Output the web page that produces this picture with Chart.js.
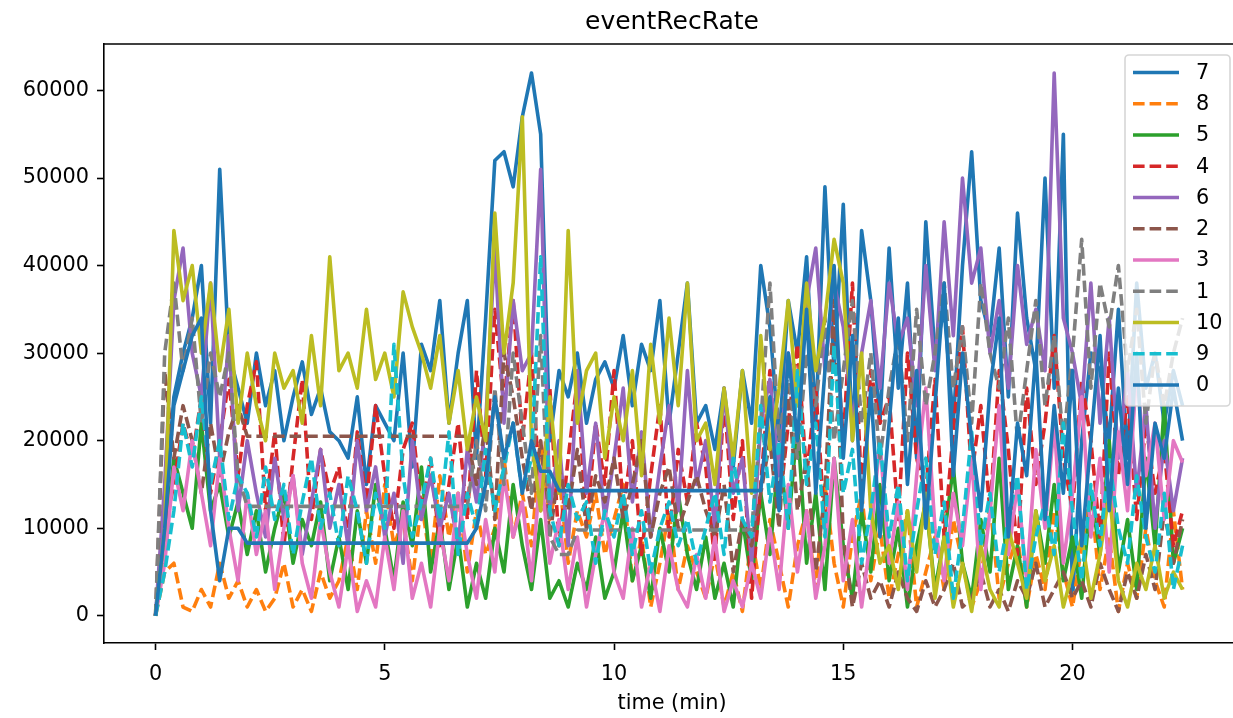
<!DOCTYPE html>
<html>
<head>
<meta charset="utf-8">
<title>eventRecRate</title>
<script src="https://cdn.jsdelivr.net/npm/chart.js@4.4.0/dist/chart.umd.min.js"></script>
<style>
  body { margin: 0; background: #fff; }
  canvas { display: block; }
</style>
</head>
<body>
<canvas id="js--chart" width="1233" height="718"></canvas>
<script>
// time in minutes, rates in thousands of events
const time = [
  0, 0.2, 0.4, 0.6, 0.8, 1, 1.2, 1.4, 1.6, 1.8,
  2, 2.2, 2.4, 2.6, 2.8, 3, 3.2, 3.4, 3.6, 3.8,
  4, 4.2, 4.4, 4.6, 4.8, 5, 5.2, 5.4, 5.6, 5.8,
  6, 6.2, 6.4, 6.6, 6.8, 7, 7.2, 7.4, 7.6, 7.8,
  8, 8.2, 8.4, 8.6, 8.8, 9, 9.2, 9.4, 9.6, 9.8,
  10, 10.2, 10.4, 10.6, 10.8, 11, 11.2, 11.4, 11.6, 11.8,
  12, 12.2, 12.4, 12.6, 12.8, 13, 13.2, 13.4, 13.6, 13.8,
  14, 14.2, 14.4, 14.6, 14.8, 15, 15.2, 15.4, 15.6, 15.8,
  16, 16.2, 16.4, 16.6, 16.8, 17, 17.2, 17.4, 17.6, 17.8,
  18, 18.2, 18.4, 18.6, 18.8, 19, 19.2, 19.4, 19.6, 19.8,
  20, 20.2, 20.4, 20.6, 20.8, 21, 21.2, 21.4, 21.6, 21.8,
  22, 22.2, 22.4
];

const s7 = [
  0, 12, 25, 30, 34, 40, 22, 51, 30, 26,
  22, 30, 24, 28, 20, 25, 29, 23, 26, 21,
  20, 18, 25, 15, 24, 22, 20, 30, 17, 31,
  28, 36, 22, 30, 36, 18, 34, 52, 53, 49,
  57, 62, 55, 20, 28, 25, 30, 22, 27, 29,
  26, 32, 24, 31, 28, 36, 22, 30, 38, 22,
  24, 19, 26, 17, 28, 22, 40, 33, 20, 36,
  30, 41, 22, 49, 28, 47, 20, 44, 36, 22,
  42, 26, 38, 18, 45, 30, 35, 22, 40, 53,
  36, 32, 42, 25, 46, 34, 28, 50, 26, 55,
  2, 20, 30, 28, 20, 35, 18, 38, 26, 30,
  22, 28, 24
];
const s8 = [
  0, 5, 6, 1, 0.5, 3, 1, 6, 2, 4,
  1, 3, 0.5, 2, 6, 1, 3, 0.5, 5, 2,
  4, 9, 3, 12, 6, 15, 8, 11, 4, 13,
  6, 16, 9, 14, 5, 12, 7, 10, 18, 9,
  14, 8, 20, 11, 16, 6, 12, 9, 14, 7,
  11, 15, 4, 9, 1, 6, 12, 3, 8, 5,
  2, 7, 1, 5, 0.5, 9, 3, 11, 6, 1,
  8, 12, 3, 15, 6, 1, 9, 14, 4, 10,
  2, 7, 12, 1, 5, 9, 3, 11, 6, 1,
  4, 13, 2, 6, 9, 1, 7, 3, 12, 5,
  1, 8, 14, 3, 9, 0.5, 6, 2, 10, 4,
  1, 12, 3
];
const s5 = [
  0, 8, 18, 14, 10, 22, 12, 15, 9, 13,
  7, 12, 5, 10, 14, 6, 11, 8, 13, 4,
  9, 3, 12, 6, 15, 10, 4, 13, 8, 17,
  5, 11, 3, 9, 1, 6, 2, 10, 5, 15,
  8, 3, 11, 2, 4, 1, 6, 3, 9, 2,
  5, 12, 4, 8, 2, 10, 5, 14, 7, 3,
  9, 2, 6, 1, 11, 4, 14, 7, 19, 10,
  22, 6, 14, 3, 18, 8, 2, 12, 5, 15,
  4, 10, 1, 8, 13, 3, 9, 17, 6, 2,
  11, 5, 18, 3, 8, 1, 12, 6, 15, 4,
  9, 2, 14, 7, 20, 5, 11, 3, 18, 8,
  24, 6, 10
];
const s4 = [
  0, 10, 15, 22, 18, 25, 14, 20, 27, 16,
  24, 29, 12, 21, 8, 18, 27, 11, 19, 14,
  17, 9, 21, 13, 24, 16, 10, 19, 22, 12,
  18, 8, 15, 22, 11, 28, 16, 35, 24, 36,
  20, 30, 12, 26, 8, 18, 27, 10, 22, 15,
  28, 12, 20, 7, 16, 24, 9, 19, 13, 22,
  17, 6, 25, 11, 20, 2, 15, 28, 12, 22,
  31, 16, 26, 10, 35, 20, 38, 14, 28, 22,
  25, 11, 30, 18, 14, 27, 9, 21, 33, 16,
  24, 12, 28, 19, 7, 26, 15, 22, 32, 18,
  12, 27, 20, 9, 30, 16, 25, 11, 22, 14,
  19, 8, 12
];
const s6 = [
  0, 15, 36, 42, 30, 25, 38, 18, 32, 12,
  20, 14, 9, 18, 11, 16, 7, 13, 19, 10,
  15, 8, 20, 12, 17, 9, 14, 6, 20, 11,
  16, 10, 14, 8, 19, 13, 22, 42, 22, 36,
  28, 30, 51, 12, 20, 8, 28, 14, 22, 11,
  18, 26, 13, 21, 9, 17, 24, 12, 28, 15,
  20, 10, 26, 14, 18, 6, 22, 27, 16, 30,
  24, 36, 42, 28, 38, 33, 22, 30, 36, 26,
  38, 31, 34, 24, 40, 28, 45, 32, 50, 38,
  42, 30, 36, 26, 40, 31, 35, 28, 62, 34,
  30, 24, 38, 22, 34, 18, 28, 14, 24, 10,
  20, 12, 18
];
const s2 = [
  0, 28, 18, 24, 20, 14, 22, 16, 21, 24,
  20.5, 20.5, 20.5, 20.5, 20.5, 20.5, 20.5, 20.5, 20.5, 20.5,
  20.5, 20.5, 20.5, 20.5, 20.5, 20.5, 20.5, 20.5, 20.5, 20.5,
  20.5, 20.5, 20.5, 20.5, 20.5, 15, 22, 11, 30, 25,
  18, 12, 20, 9, 17, 12, 19, 10, 16, 13,
  18, 11, 15, 20, 9, 14, 17, 10, 13, 16,
  12, 9, 15, 5, 11, 8, 14, 20, 10, 26,
  12, 18, 5, 14, 36, 9, 1, 6, 2, 4,
  1, 5, 2, 0.5, 4, 1, 3, 6, 1, 2,
  5, 1, 3, 0.5, 4, 2, 6, 1, 3, 5,
  2, 4, 1, 6, 3, 0.5, 5, 2, 7, 3,
  12, 6, 11
];
const s3 = [
  0, 6, 17, 12, 20, 14, 8, 18, 10, 4,
  14, 7, 12, 3, 10, 16, 6, 2, 11, 5,
  1, 8, 0.5, 4, 1, 9, 3, 12, 2, 6,
  1, 10, 4, 14, 7, 2, 11, 5, 16, 9,
  13, 4, 17, 6, 11, 3, 9, 1, 7, 12,
  5, 2, 10, 1, 6, 0.5, 8, 3, 1, 7,
  2, 9, 0.5, 4, 1, 6, 2, 10, 3, 15,
  5, 12, 2, 8, 18, 4, 11, 1, 9, 20,
  6, 13, 3, 16, 26, 10, 4, 14, 8, 18,
  3, 12, 24, 7, 15, 4, 19, 10, 22, 6,
  14, 25, 9, 18, 5, 21, 12, 28, 16, 22,
  11, 20, 17.5
];
const s1 = [
  0, 30, 38, 28, 34, 22, 30, 25, 30, 16,
  12.5, 12.5, 12.5, 12.5, 12.5, 12.5, 12.5, 12.5, 12.5, 12.5,
  12.5, 12.5, 12.5, 12.5, 12.5, 12.5, 12.5, 12.5, 12.5, 12.5,
  12.5, 12.5, 12.5, 12.5, 12.5, 20, 12, 26, 15, 30,
  22, 14, 32, 9, 7, 7, 9.8, 9.8, 9.8, 9.8,
  9.8, 9.8, 9.8, 9.8, 9.8, 9.8, 9.8, 9.8, 9.8, 9.8,
  9.8, 9.8, 9.8, 9.8, 9.8, 9.8, 22, 38, 20, 28,
  18, 30, 24, 34, 20, 28, 36, 22, 30, 18,
  26, 32, 20, 35, 24, 30, 38, 26, 33, 22,
  38, 30, 26, 34, 20, 28, 36, 24, 32, 20,
  30, 43, 26, 38, 33, 40, 28, 35, 22, 30,
  24, 30, 34
];
const s10 = [
  0, 10, 44, 36, 40, 30, 38, 28, 35, 22,
  30, 24, 20, 30, 26, 28, 22, 32, 24, 41,
  28, 30, 26, 35, 27, 30, 25, 37, 33, 30,
  26, 32, 22, 28, 19, 25, 20, 46, 30, 38,
  57, 20, 12, 25, 14, 44, 22, 28, 30, 18,
  25, 20, 28, 16, 31, 22, 34, 24, 38, 20,
  22, 15, 26, 18, 28, 14, 32, 19, 26, 36,
  24, 38, 28, 34, 43, 38, 20, 30, 12, 6,
  8, 3, 12, 5, 14, 2, 9, 1, 6, 0.5,
  8, 3, 1, 10, 6, 2, 12, 4, 8, 1,
  5, 9, 2, 7, 14, 4, 1, 6, 3, 8,
  2, 5, 3
];
const s9 = [
  0, 5, 12, 22, 17, 25, 15, 20, 11, 16,
  14, 9, 17, 11, 15, 7, 13, 18, 10, 14,
  8, 16, 12, 6, 14, 10, 31, 16, 9, 13,
  18, 11, 21, 7, 14, 10, 19, 12, 17, 22,
  14, 18, 41, 12, 8, 15, 11, 13, 6, 12,
  9, 14, 7, 12, 5, 10, 13, 8, 11, 6,
  10, 14, 7, 18, 11, 9, 24, 13, 20, 10,
  28, 15, 22, 9, 31, 14, 19, 6, 12, 20,
  9, 15, 4, 12, 18, 7, 13, 2, 10, 21,
  8, 14, 5, 11, 16, 3, 9, 13, 7, 22,
  12, 4, 15, 8, 18, 10, 6, 16, 9, 5,
  14, 3, 8
];
const s0 = [
  0, 10, 24, 28, 32, 34, 12, 4, 10, 10,
  8.3, 8.3, 8.3, 8.3, 8.3, 8.3, 8.3, 8.3, 8.3, 8.3,
  8.3, 8.3, 8.3, 8.3, 8.3, 8.3, 8.3, 8.3, 8.3, 8.3,
  8.3, 8.3, 8.3, 8.3, 8.3, 10, 15, 25, 18, 22,
  14, 20, 16.5, 16.5, 14.3, 14.3, 14.3, 14.3, 14.3, 14.3,
  14.3, 14.3, 14.3, 14.3, 14.3, 14.3, 14.3, 14.3, 14.3, 14.3,
  14.3, 14.3, 14.3, 14.3, 14.3, 14.3, 14.3, 25, 12, 30,
  20, 35, 14, 28, 40, 18, 32, 12, 26, 9,
  22, 34, 15, 28, 10, 24, 38, 16, 30, 20,
  12, 26, 34, 9, 22, 16, 30, 11, 24, 14,
  28, 8, 20, 32, 12, 26, 15, 30, 10, 22,
  18, 26, 20
];

const seriesNames = ["7", "8", "5", "4", "6", "2", "3", "1", "10", "9", "0"];
const seriesValues = [s7, s8, s5, s4, s6, s2, s3, s1, s10, s9, s0];
const seriesColors = ["#1f77b4", "#ff7f0e", "#2ca02c", "#d62728", "#9467bd", "#8c564b",
  "#e377c2", "#7f7f7f", "#bcbd22", "#17becf", "#1f77b4"];
const seriesDashed = [false, true, false, true, false, true, false, true, false, true, false];

const xTicks = [0, 5, 10, 15, 20];
const yTicks = [0, 10000, 20000, 30000, 40000, 50000, 60000];

const DASH = [11.6, 5];
const LINE_W = 3.6;
const FONT = "DejaVu Sans";

Chart.defaults.font.family = FONT;
Chart.defaults.color = "#000";

const datasets = seriesNames.map(function(name, i){
  return {
    label: name,
    data: time.map(function(t, j){
      return {x: t, y: seriesValues[i][j] * 1000};
    }),
    borderColor: seriesColors[i],
    borderWidth: LINE_W,
    borderDash: seriesDashed[i] ? DASH : [],
    borderJoinStyle: "round",
    pointRadius: 0,
    fill: false,
    tension: 0,
    // matplotlib draws later series on top
    order: seriesNames.length - i
  };
});

const decor = {
  id: "decor",
  afterDraw: function(chart){
    const ctx = chart.ctx;
    const area = chart.chartArea;
    ctx.save();

    // top spine
    ctx.strokeStyle = "#000";
    ctx.lineWidth = 1.6;
    ctx.beginPath();
    ctx.moveTo(area.left, area.top);
    ctx.lineTo(area.right, area.top);
    ctx.stroke();

    // title and x label
    ctx.fillStyle = "#000";
    ctx.textAlign = "center";
    ctx.textBaseline = "alphabetic";
    ctx.font = "25px '" + FONT + "'";
    ctx.fillText("eventRecRate", 672, 28.5);
    ctx.font = "20.8px '" + FONT + "'";
    ctx.fillText("time (min)", 672, 709);

    // legend box
    const bx = 1125, by = 55, bw = 105, bh = 351, r = 4;
    ctx.beginPath();
    ctx.moveTo(bx + r, by);
    ctx.lineTo(bx + bw - r, by);
    ctx.arcTo(bx + bw, by, bx + bw, by + r, r);
    ctx.lineTo(bx + bw, by + bh - r);
    ctx.arcTo(bx + bw, by + bh, bx + bw - r, by + bh, r);
    ctx.lineTo(bx + r, by + bh);
    ctx.arcTo(bx, by + bh, bx, by + bh - r, r);
    ctx.lineTo(bx, by + r);
    ctx.arcTo(bx, by, bx + r, by, r);
    ctx.closePath();
    ctx.fillStyle = "rgba(255,255,255,0.8)";
    ctx.fill();
    ctx.strokeStyle = "rgba(204,204,204,0.8)";
    ctx.lineWidth = 1.6;
    ctx.stroke();

    ctx.textAlign = "left";
    ctx.textBaseline = "middle";
    seriesNames.forEach(function(name, i){
      const y = 72.5 + i * 31.25;
      ctx.strokeStyle = seriesColors[i];
      ctx.lineWidth = LINE_W;
      ctx.lineCap = "butt";
      ctx.setLineDash(seriesDashed[i] ? DASH : []);
      ctx.beginPath();
      ctx.moveTo(1133, y);
      ctx.lineTo(1179, y);
      ctx.stroke();
      ctx.setLineDash([]);
      ctx.fillStyle = "#000";
      ctx.fillText(name, 1196, y + 1);
    });

    ctx.restore();
  }
};

new Chart(document.getElementById("js--chart"), {
  type: "line",
  data: {datasets: datasets},
  options: {
    responsive: false,
    devicePixelRatio: 1,
    animation: false,
    layout: {padding: {top: 44, left: 0, right: 0, bottom: 0}},
    plugins: {
      legend: {display: false},
      title: {display: false},
      tooltip: {enabled: false}
    },
    scales: {
      x: {
        type: "linear",
        min: -1.124,
        max: 23.5,
        afterBuildTicks: function(scale){
          scale.ticks = xTicks.map(function(v){ return {value: v}; });
        },
        afterFit: function(scale){ scale.height = 75; },
        grid: {drawOnChartArea: false, drawTicks: true, tickLength: 7, tickWidth: 1.6, tickColor: "#000"},
        border: {display: true, color: "#000", width: 1.6},
        ticks: {
          font: {size: 20.8},
          color: "#000",
          padding: 12,
          maxRotation: 0,
          callback: function(v){ return String(v); }
        }
      },
      y: {
        type: "linear",
        min: -3110,
        max: 65310,
        afterBuildTicks: function(scale){
          scale.ticks = yTicks.map(function(v){ return {value: v}; });
        },
        afterFit: function(scale){ scale.width = 104; },
        grid: {drawOnChartArea: false, drawTicks: true, tickLength: 7, tickWidth: 1.6, tickColor: "#000"},
        border: {display: true, color: "#000", width: 1.6},
        ticks: {
          font: {size: 20.8},
          color: "#000",
          padding: 8,
          callback: function(v){ return String(v); }
        }
      }
    }
  },
  plugins: [decor]
});
</script>
</body>
</html>
